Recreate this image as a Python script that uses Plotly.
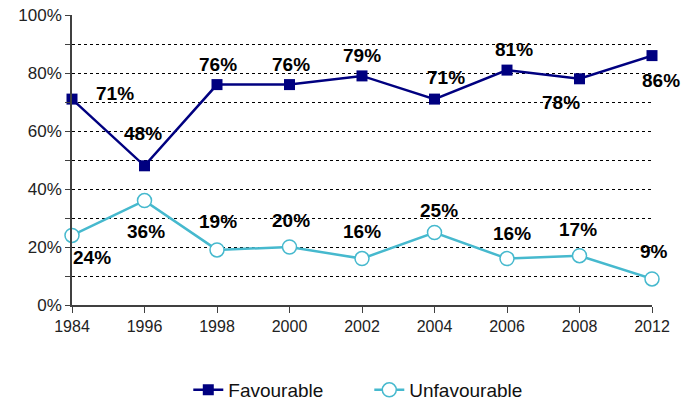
import plotly.graph_objects as go

years = ["1984", "1996", "1998", "2000", "2002", "2004", "2006", "2008", "2012"]
favourable = [71, 48, 76, 76, 79, 71, 81, 78, 86]
unfavourable = [24, 36, 19, 20, 16, 25, 16, 17, 9]
y_ticks = [0, 20, 40, 60, 80, 100]
y_ticklabels = ["0%", "20%", "40%", "60%", "80%", "100%"]

# label offsets (pixels, x right / y up) relative to each point
fav_dx = [43, -2, 1, 1, 0, 11, 7, -19, 9]
fav_dy = [6, 32, 20, 20, 20, 22, 21, -24, -25]
unf_dx = [20, 1, 1, 1, 0, 4, 5, -2, 2]
unf_dy = [-22, -31, 28, 27, 27, 22, 25, 26, 27]

NAVY = "#000080"
CYAN = "#46B9CE"
ARIAL = "Liberation Sans, Arial"

fig = go.Figure()
fig.add_trace(go.Scatter(
    x=years, y=favourable, name="Favourable", mode="lines+markers",
    line=dict(color=NAVY, width=2.5),
    marker=dict(symbol="square", size=11, color=NAVY),
    cliponaxis=False, hoverinfo="skip",
))
fig.add_trace(go.Scatter(
    x=years, y=unfavourable, name="Unfavourable", mode="lines+markers",
    line=dict(color=CYAN, width=2.5),
    marker=dict(symbol="circle", size=14, color="white", line=dict(color=CYAN, width=1.5)),
    cliponaxis=False, hoverinfo="skip",
))

for series, dxs, dys in ((favourable, fav_dx, fav_dy), (unfavourable, unf_dx, unf_dy)):
    for i, (v, dx, dy) in enumerate(zip(series, dxs, dys)):
        fig.add_annotation(x=i, y=v, xref="x", yref="y", text=f"<b>{v}%</b>",
                           showarrow=False, xshift=dx, yshift=dy,
                           xanchor="center", yanchor="middle",
                           font=dict(family=ARIAL, size=19, color="black"))

fig.update_layout(
    width=683, height=406,
    margin=dict(l=72, r=31, t=15, b=101, autoexpand=False),
    plot_bgcolor="white", paper_bgcolor="white",
    showlegend=True,
    legend=dict(orientation="h", x=0.2005, xanchor="left", y=-0.293, yanchor="middle",
                font=dict(family=ARIAL, size=19, color="#111111"),
                entrywidth=136, entrywidthmode="pixels",
                traceorder="normal"),
    xaxis=dict(
        type="category", range=[0, 8], showgrid=False,
        showline=True, linecolor="#404040", linewidth=1.5,
        ticks="outside", ticklen=6, tickcolor="#404040",
        tickfont=dict(family=ARIAL, size=16, color="#222222"),
        zeroline=False,
    ),
    yaxis=dict(
        range=[0, 100], tickmode="array", tickvals=y_ticks, ticktext=y_ticklabels,
        ticklabeloverflow="allow",
        showgrid=True, gridcolor="black", gridwidth=1, griddash="dot",
        showline=True, linecolor="#404040", linewidth=1.5,
        ticks="outside", ticklen=5, tickcolor="#404040",
        tickfont=dict(family=ARIAL, size=17, color="#222222"),
        zeroline=False,
        minor=dict(tickmode="linear", tick0=0, dtick=10, ticks="outside", ticklen=5,
                   tickcolor="#404040", showgrid=True, gridcolor="black",
                   gridwidth=1, griddash="dot"),
    ),
)

fig.write_html("out.html", config={"displayModeBar": False},
               post_script="document.body.style.margin='0';")
